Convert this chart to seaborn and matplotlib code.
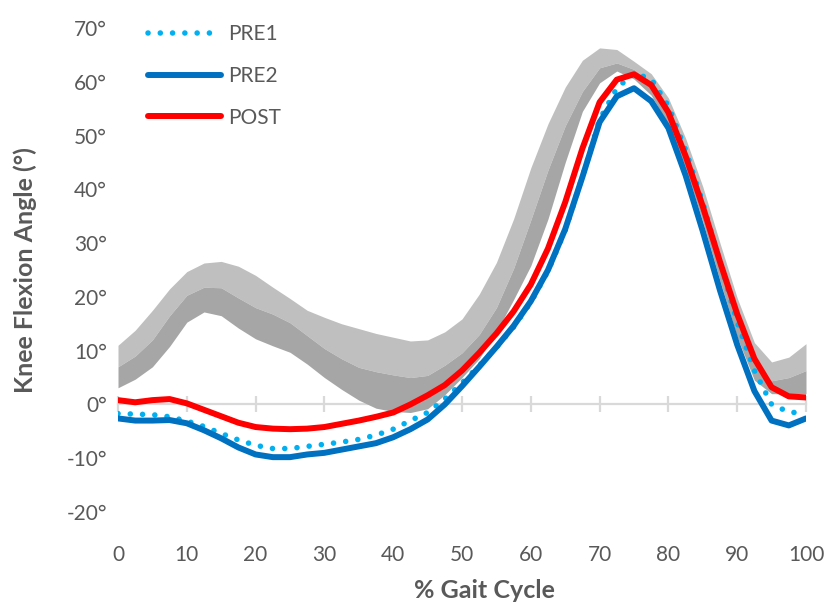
import numpy as np
import pandas as pd
import matplotlib
matplotlib.use("Agg")
import matplotlib.pyplot as plt
import seaborn as sns

# ---------------- data ----------------
gait_pct = [0, 2.5, 5, 7.5, 10, 12.5, 15, 17.5, 20, 22.5, 25, 27.5, 30, 32.5, 35, 37.5,
            40, 42.5, 45, 47.5, 50, 52.5, 55, 57.5, 60, 62.5, 65, 67.5, 70, 72.5, 75,
            77.5, 80, 82.5, 85, 87.5, 90, 92.5, 95, 97.5, 100]

pre1 = [-1.7, -1.8, -1.9, -2.3, -3.1, -4.1, -5.4, -6.6, -7.6, -8.2, -8.2, -7.8, -7.4, -7.0,
        -6.5, -5.7, -4.6, -3.0, -1.5, 1.0, 4.0, 7.2, 10.6, 14.4, 19.0, 24.8, 32.4, 42.3,
        53.0, 58.8, 61.6, 60.5, 55.5, 47.3, 37.5, 26.5, 15.3, 6.3, 0.0, -1.4, -1.7]

pre2 = [-2.6, -3.0, -3.0, -2.9, -3.5, -4.8, -6.3, -8.0, -9.3, -9.8, -9.8, -9.3, -9.0, -8.4,
        -7.8, -7.2, -6.1, -4.6, -2.8, 0.0, 3.4, 7.0, 10.7, 14.6, 19.2, 25.0, 32.6, 42.3,
        52.5, 57.3, 58.8, 56.4, 51.4, 42.6, 32.2, 21.2, 11.1, 2.5, -3.0, -3.9, -2.6]

post = [0.8, 0.4, 0.8, 1.0, 0.2, -1.0, -2.2, -3.4, -4.2, -4.5, -4.6, -4.5, -4.2, -3.6,
        -3.0, -2.3, -1.5, 0.0, 1.7, 3.6, 6.3, 9.6, 13.2, 17.3, 22.3, 29.0, 37.6, 47.6,
        56.2, 60.4, 61.4, 59.4, 54.3, 46.2, 36.8, 26.5, 16.8, 8.5, 3.2, 1.5, 1.3]

norm_upper = [11.0, 13.8, 17.5, 21.5, 24.7, 26.3, 26.6, 25.7, 24.0, 21.8, 19.7, 17.5, 16.2,
              15.0, 14.1, 13.2, 12.5, 11.8, 12.0, 13.5, 15.9, 20.5, 26.4, 34.5, 44.0, 52.2,
              59.0, 64.0, 66.3, 66.0, 63.8, 61.5, 57.0, 49.5, 40.5, 30.0, 19.8, 11.5, 7.9,
              8.8, 11.3]

norm_middle = [7.0, 9.0, 12.0, 16.5, 20.3, 21.8, 21.7, 19.8, 18.0, 16.8, 15.2, 12.8, 10.4,
               8.5, 6.9, 6.1, 5.5, 5.0, 5.4, 7.3, 9.6, 13.0, 18.0, 25.3, 34.3, 43.6, 51.8,
               58.2, 62.6, 63.5, 62.3, 60.0, 55.0, 47.0, 37.8, 27.3, 17.2, 7.5, 4.4, 5.0,
               6.3]

norm_lower = [3.1, 4.7, 7.0, 10.8, 15.3, 17.2, 16.5, 14.2, 12.2, 10.9, 9.7, 7.5, 5.0, 2.8,
              0.8, -0.7, -1.3, -1.5, -0.8, 1.8, 5.0, 8.5, 13.5, 19.5, 25.8, 34.5, 45.0,
              54.5, 59.8, 62.0, 60.5, 57.5, 52.0, 44.0, 34.0, 23.0, 12.5, 4.5, 2.0, 2.0,
              2.0]

x_ticks = [0, 10, 20, 30, 40, 50, 60, 70, 80, 90, 100]
y_ticks = [-20, -10, 0, 10, 20, 30, 40, 50, 60, 70]
series_names = ["PRE1", "PRE2", "POST"]

# ---------------- style ----------------
sns.set_style("white")
plt.rcParams["font.family"] = ["Lato", "DejaVu Sans"]
TXT = "#595959"

df = pd.DataFrame({"gait": gait_pct, "PRE1": pre1, "PRE2": pre2, "POST": post})

fig = plt.figure(figsize=(8.27, 6.04), dpi=100)
ax = fig.add_axes([118 / 827, 1 - 512 / 604, (806 - 118) / 827, (512 - 28) / 604])

# normative bands
ax.fill_between(gait_pct, norm_middle, norm_upper, color="#BFBFBF", lw=0, zorder=1)
ax.fill_between(gait_pct, norm_lower, norm_middle, color="#A6A6A6", lw=0, zorder=1)

sns.lineplot(data=df, x="gait", y="PRE1", ax=ax, color="#00B0F0", lw=4.0,
             linestyle=(0, (0.01, 2.2)), label="PRE1", zorder=3)
sns.lineplot(data=df, x="gait", y="PRE2", ax=ax, color="#0070C0", lw=4.3,
             label="PRE2", zorder=3)
sns.lineplot(data=df, x="gait", y="POST", ax=ax, color="#FF0000", lw=4.3,
             label="POST", zorder=4)
for ln in ax.get_lines():
    ln.set_dash_capstyle("round")
    ln.set_solid_capstyle("round")
    ln.set_solid_joinstyle("round")

ax.set_xlim(0, 100)
ax.set_ylim(-20, 70)

# axes look: horizontal axis line at 0 with crossing ticks
for s in ["top", "right", "left"]:
    ax.spines[s].set_visible(False)
ax.spines["bottom"].set_position(("data", 0))
ax.spines["bottom"].set_color("#D9D9D9")
ax.spines["bottom"].set_linewidth(1.6)
ax.spines["bottom"].set_zorder(0.5)
ax.set_xticks(x_ticks)
ax.tick_params(axis="x", bottom=True, direction="inout", length=12, width=1.6,
               color="#D9D9D9", labelbottom=False)

sec = ax.secondary_xaxis("bottom")
sec.set_xticks(x_ticks)
sec.set_xticklabels([str(v) for v in x_ticks])
sec.tick_params(axis="x", length=0, pad=24, labelsize=15, labelcolor=TXT)
sec.spines["bottom"].set_visible(False)

ax.set_yticks(y_ticks)
ax.set_yticklabels([f"{v}°" for v in y_ticks])
ax.tick_params(axis="y", left=False, length=0, pad=8, labelsize=15, labelcolor=TXT)
ax.set_xlabel("")
ax.set_ylabel("")

fig.text(25 / 827, 1 - 270 / 604, "Knee Flexion Angle (°)", rotation=90, ha="center",
         va="center", fontsize=18, fontweight="bold", color=TXT)
fig.text(484 / 827, 1 - 590 / 604, "% Gait Cycle", ha="center", va="center",
         fontsize=18, fontweight="bold", color=TXT)

leg = ax.legend(loc="upper left", bbox_to_anchor=(148 / 827, 1 - 24 / 604),
                bbox_transform=fig.transFigure, frameon=False, fontsize=15,
                handlelength=3.5, handletextpad=0.35, labelspacing=1.05,
                borderpad=0, borderaxespad=0)
for t in leg.get_texts():
    t.set_color(TXT)

fig.savefig("out.png", dpi=100)
